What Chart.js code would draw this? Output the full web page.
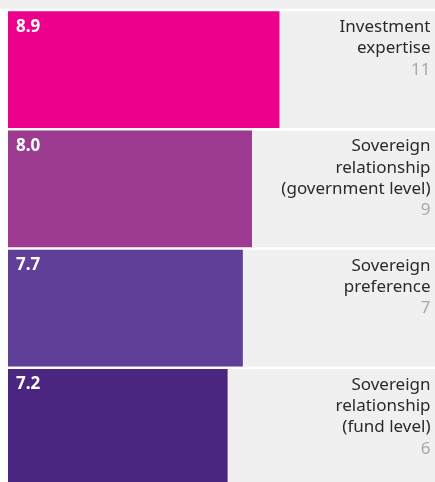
<!DOCTYPE html>
<html>
<head>
<meta charset="utf-8">
<script src="https://cdn.jsdelivr.net/npm/chart.js@4.4.1/dist/chart.umd.min.js"></script>
<style>
  html, body { margin: 0; padding: 0; background: #fff; overflow: hidden; }
  canvas { display: block; }
</style>
</head>
<body>
<canvas id="myChart" width="435" height="487"></canvas>
<script>
// data
const categories = [
  ["Investment", "expertise"],
  ["Sovereign", "relationship", "(government level)"],
  ["Sovereign", "preference"],
  ["Sovereign", "relationship", "(fund level)"],
];
const scores = [8.9, 8.0, 7.7, 7.2];
const counts = [11, 9, 7, 6];
const barColors = ["#EC008C", "#9C3B8F", "#5F3F97", "#4A2680"];
const scaleMax = 14;

const LABEL_FONT = "17px 'Noto Sans', sans-serif";
const VALUE_FONT = "bold 17px 'Noto Sans', sans-serif";

// 라벨 그리기
const labelPlugin = {
  id: "rowLabels",
  beforeDraw(chart) {
    const { ctx, chartArea } = chart;
    ctx.save();
    ctx.fillStyle = "#F0F0F0";
    ctx.fillRect(0, 0, chart.width, chartArea.top - 1.3);
    ctx.restore();
  },
  afterDatasetsDraw(chart) {
    const { ctx, chartArea } = chart;
    const bars = chart.getDatasetMeta(0).data;
    ctx.save();
    bars.forEach((bar, i) => {
      const top = bar.y - bar.height / 2;
      // value
      ctx.font = VALUE_FONT;
      ctx.fillStyle = "#ffffff";
      ctx.textAlign = "left";
      ctx.textBaseline = "alphabetic";
      ctx.fillText(scores[i].toFixed(1), chartArea.left + 8, top + 20.5);
      // category + count
      ctx.font = LABEL_FONT;
      ctx.textAlign = "right";
      const rx = chartArea.right - 4.5;
      const lines = categories[i];
      lines.forEach((line, j) => {
        ctx.fillStyle = "#2a2a2a";
        ctx.fillText(line, rx, top + 21 + j * 21.3);
      });
      ctx.fillStyle = "#A8A8A8";
      ctx.fillText(String(counts[i]), rx, top + 21 + lines.length * 21.3);
    });
    ctx.restore();
  },
};

const ctx = document.getElementById("myChart").getContext("2d");
const myChart = new Chart(ctx, {
  type: "bar",
  data: {
    labels: categories.map((c) => c.join(" ")),
    datasets: [
      {
        data: scores,
        backgroundColor: barColors,
        barPercentage: 1,
        categoryPercentage: 0.981,
        grouped: false,
        order: 0,
      },
      {
        data: categories.map(() => scaleMax),
        backgroundColor: "#F0F0F0",
        barPercentage: 1,
        categoryPercentage: 0.981,
        grouped: false,
        order: 1,
      },
    ],
  },
  options: {
    indexAxis: "y",
    responsive: false,
    animation: false,
    layout: { padding: { left: 8, top: 10, right: 0, bottom: 0 } },
    scales: {
      x: { min: 0, max: scaleMax, display: false },
      y: { display: false },
    },
    plugins: {
      legend: { display: false },
      tooltip: { enabled: false },
    },
  },
  plugins: [labelPlugin],
});
</script>
</body>
</html>
